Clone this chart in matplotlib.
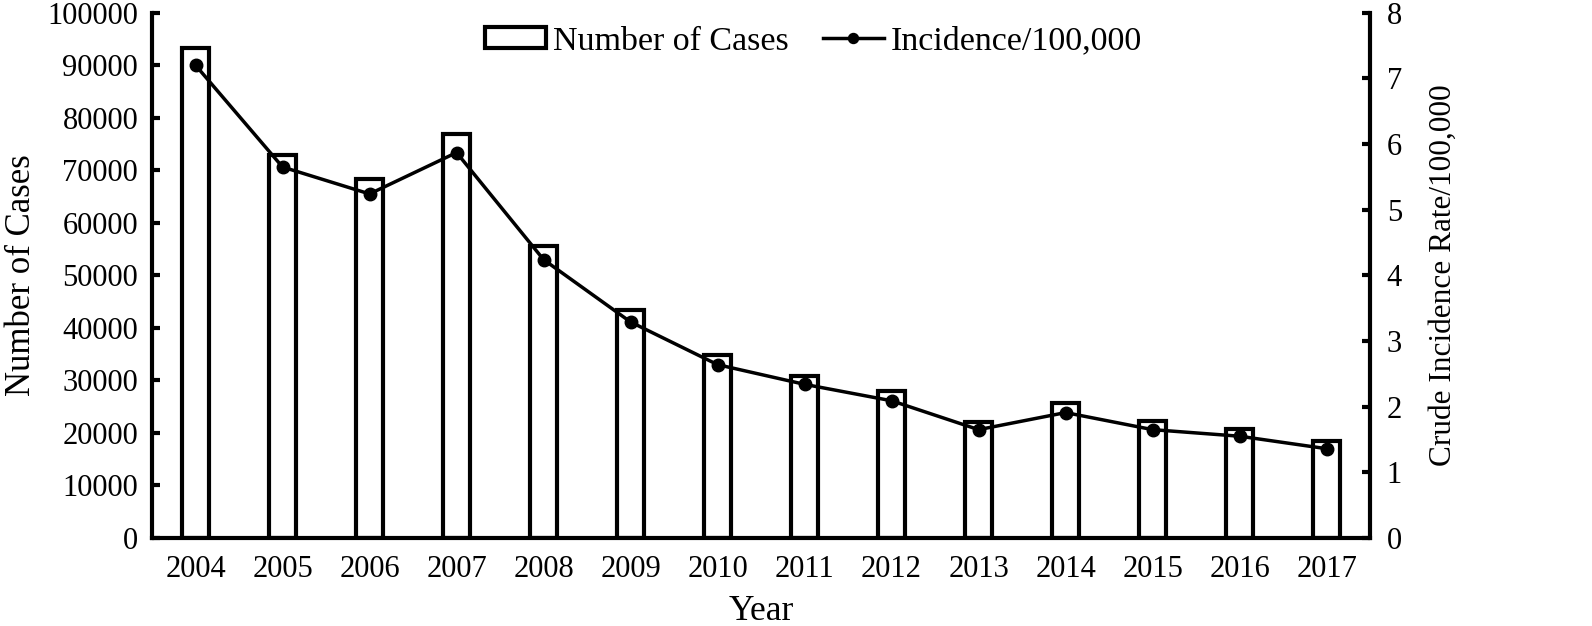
import matplotlib
matplotlib.use("Agg")
import matplotlib.pyplot as plt

years = ['2004', '2005', '2006', '2007', '2008', '2009', '2010',
         '2011', '2012', '2013', '2014', '2015', '2016', '2017']
cases = [93300, 73000, 68400, 76900, 55600, 43400, 34800,
         30900, 27900, 22000, 25700, 22300, 20800, 18500]
incidence = [7.2, 5.65, 5.24, 5.87, 4.24, 3.29, 2.64,
             2.34, 2.09, 1.65, 1.91, 1.65, 1.55, 1.36]

plt.rcParams['font.family'] = ['Liberation Serif', 'DejaVu Serif']

fig = plt.figure(figsize=(15.92, 6.26), dpi=100)
ax = fig.add_axes([0.0955, 0.1406, 0.7651, 0.8391])
x = list(range(len(years)))

bars = ax.bar(x, cases, width=0.31, facecolor='white', edgecolor='black',
              linewidth=3, label='Number of Cases')
ax.set_xlim(-0.5, 13.5)
ax.set_ylim(0, 100000)
ax.set_yticks(range(0, 100001, 10000))
ax.set_xticks(x)
ax.set_xticklabels(years)
ax.tick_params(axis='y', direction='in', length=6, width=3, labelsize=22, pad=10)
ax.tick_params(axis='x', length=0, labelsize=22, pad=12)
ax.set_ylabel('Number of Cases', fontsize=25, labelpad=7)
ax.set_xlabel('Year', fontsize=25.5, labelpad=8)
for s in ['left', 'bottom']:
    ax.spines[s].set_linewidth(3)
ax.spines['top'].set_visible(False)
ax.spines['right'].set_visible(False)

ax2 = ax.twinx()
line, = ax2.plot(x, incidence, color='black', linewidth=2.5, marker='o',
                 markersize=9, label='Incidence/100,000')
ax2.set_ylim(0, 8)
ax2.set_yticks(range(0, 9))
ax2.tick_params(axis='y', direction='in', length=6, width=3, labelsize=22, pad=12)
ax2.set_ylabel('Crude Incidence Rate/100,000', fontsize=22.5, labelpad=19)
ax2.spines['right'].set_linewidth(3)
ax2.spines['top'].set_visible(False)
ax2.spines['left'].set_visible(False)
ax2.spines['bottom'].set_visible(False)

leg = fig.legend([bars, line], ['Number of Cases', 'Incidence/100,000'],
                 loc='center', bbox_to_anchor=(0.511, 0.934), ncol=2, frameon=False,
                 fontsize=24.5, handlelength=1.8, handleheight=0.6,
                 handletextpad=0.2, columnspacing=1.0, markerscale=0.8)

fig.savefig('out.png', dpi=100)
